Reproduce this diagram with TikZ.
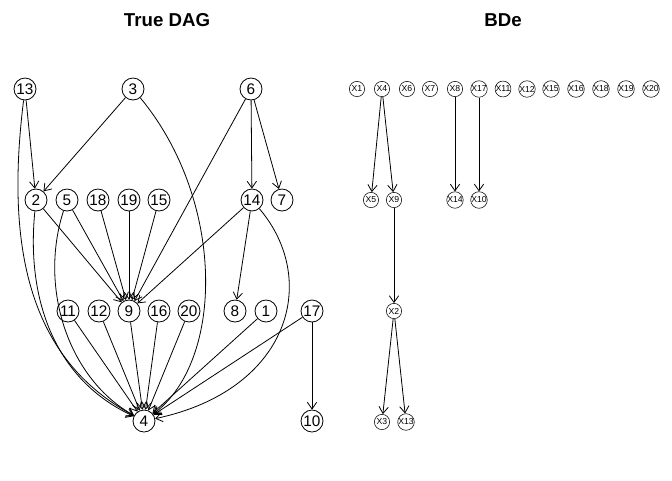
\documentclass[tikz,border=0pt]{standalone}
\usepackage{fontspec}
\setmainfont{Liberation Sans}
\usetikzlibrary{arrows.meta}
\tikzset{
	vert/.style={circle, draw, semithick, inner sep=0pt, minimum size=16.5pt, font=\fontsize{11.5}{12}\selectfont},
	bvert/.style={circle, draw, inner sep=0pt, minimum size=11.5pt, font=\fontsize{6.5}{7}\selectfont},
	edge/.style={-{Straight Barb[length=5pt,width=7pt]}, semithick},
	title/.style={font=\bfseries\fontsize{14}{16}\selectfont}
}
\begin{document}
\begin{tikzpicture}[x=0.75pt, y=-0.75pt]
	\useasboundingbox (0,0) rectangle (672,480);
	\node[title] (t1) at (167,20) {True DAG};
	\node[title] (t2) at (503,20) {BDe};
	% true DAG
	\node[vert] (13) at (25,89) {13};
	\node[vert] (3) at (133,89) {3};
	\node[vert] (6) at (251,89) {6};
	\node[vert] (2) at (36,200) {2};
	\node[vert] (5) at (67,200) {5};
	\node[vert] (18) at (98,200) {18};
	\node[vert] (19) at (129,200) {19};
	\node[vert] (15) at (159,200) {15};
	\node[vert] (14) at (252,200) {14};
	\node[vert] (7) at (282,200) {7};
	\node[vert] (11) at (68,311) {11};
	\node[vert] (12) at (99,311) {12};
	\node[vert] (9) at (129,311) {9};
	\node[vert] (16) at (159,311) {16};
	\node[vert] (20) at (189,311) {20};
	\node[vert] (8) at (235,311) {8};
	\node[vert] (1) at (266,311) {1};
	\node[vert] (17) at (312,311) {17};
	\node[vert] (4) at (144,421) {4};
	\node[vert] (10) at (312,421) {10};
	\draw[edge] (13) -- (2);
	\draw[edge] (3) -- (2);
	\draw[edge] (6) -- (14);
	\draw[edge] (6) -- (7);
	\draw[edge] (6) -- (9);
	\foreach \s in {2,5,18,19,15,14}
		\draw[edge] (\s) -- (9);
	\draw[edge] (14) -- (8);
	\foreach \s in {11,12,9,16,20,1,17}
		\draw[edge] (\s) -- (4);
	\draw[edge] (17) -- (10);
	% curved ones into 4
	\draw[edge] (13) .. controls (5,250) and (30,360) .. (4);
	\draw[edge] (2) .. controls (26,300) and (55,380) .. (4);
	\draw[edge] (5) .. controls (38,290) and (70,380) .. (4);
	\draw[edge] (3) .. controls (225,200) and (225,360) .. (4);
	\draw[edge] (14) .. controls (320,280) and (290,390) .. (4);
	% BDe
	\foreach \n/\x in {1/357,4/382,6/407,7/430,8/455,17/479,11/503,12/527,15/551,16/576,18/601,19/626,20/651}
		\node[bvert] (X\n) at (\x,89) {X\n};
	\node[bvert] (X5) at (371,200) {X5};
	\node[bvert] (X9) at (394,200) {X9};
	\node[bvert] (X14) at (455,200) {X14};
	\node[bvert] (X10) at (479,200) {X10};
	\node[bvert] (X2) at (394,311) {X2};
	\node[bvert] (X3) at (382,422) {X3};
	\node[bvert] (X13) at (406,422) {X13};
	\draw[edge] (X4) -- (X5);
	\draw[edge] (X4) -- (X9);
	\draw[edge] (X8) -- (X14);
	\draw[edge] (X17) -- (X10);
	\draw[edge] (X9) -- (X2);
	\draw[edge] (X2) -- (X3);
	\draw[edge] (X2) -- (X13);
\end{tikzpicture}
\end{document}
